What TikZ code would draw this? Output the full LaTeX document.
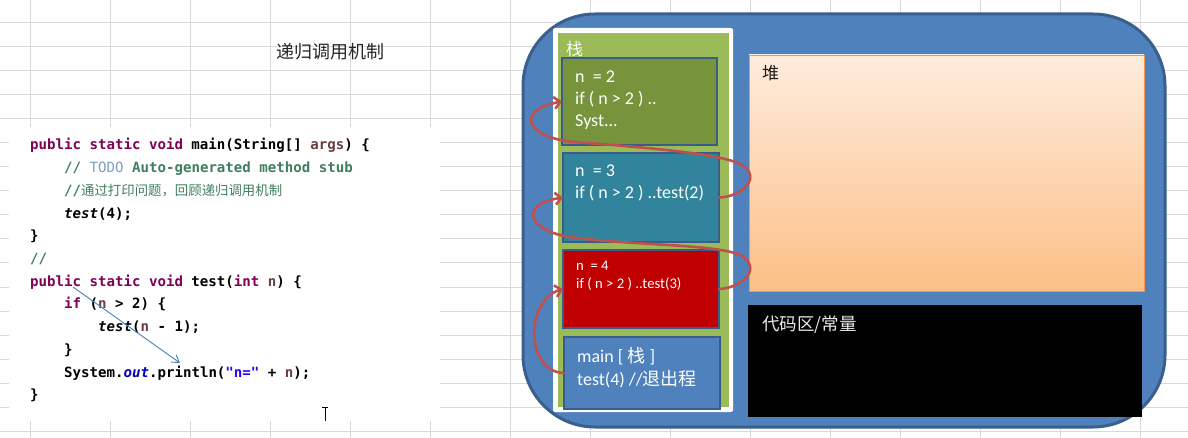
\documentclass[tikz,border=0pt]{standalone}
\usepackage{fontspec}
\usetikzlibrary{arrows.meta}
\newfontfamily\cjk{Noto Sans CJK SC}
\newfontfamily\codefont{DejaVu Sans Mono}
\newfontfamily\calfont{Carlito}
\definecolor{gridc}{HTML}{D9D9D9}
\definecolor{kwc}{HTML}{7F0055}
\definecolor{cmc}{HTML}{3F7F5F}
\definecolor{todoc}{HTML}{7F9FBF}
\definecolor{varc}{HTML}{6A3E3E}
\definecolor{fldc}{HTML}{0000C0}
\definecolor{strc}{HTML}{2A00FF}
\definecolor{memfill}{HTML}{4F81BD}
\definecolor{memborder}{HTML}{3A5F8C}
\definecolor{stackgreen}{HTML}{9BBB59}
\definecolor{frameborder}{HTML}{385D8A}
\definecolor{olive}{HTML}{77933C}
\definecolor{teal}{HTML}{31849B}
\definecolor{darkred}{HTML}{C00000}
\definecolor{redarrow}{HTML}{C0504D}
\definecolor{heaptop}{HTML}{FEECDD}
\definecolor{heapbot}{HTML}{FCBF86}
\definecolor{heapborder}{HTML}{F79646}
\definecolor{codearrowc}{HTML}{4A7EBB}
\newcommand\ckw[1]{\textcolor{kwc}{#1}}
\newcommand\ccm[1]{\textcolor{cmc}{#1}}
\newcommand\ctodo[1]{\textcolor{todoc}{\mdseries #1}}
\newcommand\cvar[1]{\textcolor{varc}{#1}}
\newcommand\cfld[1]{\textcolor{fldc}{\itshape #1}}
\newcommand\cstr[1]{\textcolor{strc}{#1}}
\tikzset{
  gridline/.style={draw=gridc, line width=1pt},
  codeline/.style={anchor=base west, inner sep=0pt, font=\codefont\bfseries\fontsize{14.1}{16}\selectfont},
  frame/.style={draw=frameborder, line width=2.5pt, inner sep=0pt, outer sep=0pt},
  ftext/.style={anchor=base west, inner sep=0pt, text=white, font=\calfont\fontsize{18}{22}\selectfont},
  ftextsmall/.style={anchor=base west, inner sep=0pt, text=white, font=\calfont\fontsize{14.7}{18}\selectfont},
  call/.style={draw=redarrow, line width=2.6pt, line cap=round, -{Straight Barb[length=6pt,width=12pt]}},
  codearrow/.style={draw=codearrowc, line width=0.9pt, -{Straight Barb[length=7pt,width=9pt]}},
}
\begin{document}
\begin{tikzpicture}[x=1pt,y=-1pt]
\useasboundingbox (0,0) rectangle (1188,438);
\fill[white] (0,0) rectangle (1188,438);
% spreadsheet grid
\foreach \yy in {23,47,...,431} \draw[gridline] (0,\yy) -- (1188,\yy);
\foreach \xx in {30,110,190,270,350,430,510,590,670,750,830,900,980,1060,1140} \draw[gridline] (\xx,0) -- (\xx,438);
% code picture
\fill[white] (9,127) rectangle (440,421);
\node[anchor=west, inner sep=0pt, text=black!85, font=\cjk\fontsize{18}{18}\selectfont] (title) at (276,52) {递归调用机制};
\node[codeline] (c1) at (30,150) {\ckw{public static void} main(String[] \cvar{args}) \{};
\node[codeline] (c2) at (64,172.7) {\ccm{//\ }\ctodo{TODO}\ccm{\ Auto-generated method stub}};
\node[codeline] (c3) at (64,195.4) {\ccm{//{\cjk\mdseries\fontsize{13.4}{16}\selectfont 通过打印问题，回顾递归调用机制}}};
\node[codeline] (c4) at (64,218.1) {{\itshape test}(4);};
\node[codeline] (c5) at (30,240.8) {\}};
\node[codeline] (c6) at (30,263.5) {\ccm{//}};
\node[codeline] (c7) at (30,286.2) {\ckw{public static void} test(\ckw{int} \cvar{n}) \{};
\node[codeline] (c8) at (64,308.9) {\ckw{if} (\cvar{n} > 2) \{};
\node[codeline] (c9) at (98,331.6) {{\itshape test}(\cvar{n} - 1);};
\node[codeline] (c10) at (64,354.3) {\}};
\node[codeline] (c11) at (64,377) {System.\cfld{out}.println(\cstr{"n="} + \cvar{n});};
\node[codeline] (c12) at (30,399.7) {\}};
\coordinate (ca) at (73,287);
\coordinate (cb) at (180,363);
\draw[codearrow] (ca) -- (cb);
% text cursor
\draw[line width=1pt] (322,407) -- (328,407);
\draw[line width=1pt] (325,407) -- (325,421);
% memory container
\node[draw=memborder, fill=memfill, line width=3pt, rounded corners=72pt, minimum width=642pt, minimum height=413pt, inner sep=0pt] (mem) at (844,220.5) {};
% stack panel
\node[fill=white, rounded corners=2pt, minimum width=180pt, minimum height=384pt, inner sep=0pt] (panel) at (643,220) {};
\node[fill=stackgreen, minimum width=171pt, minimum height=374pt, inner sep=0pt] (stack) at (643.5,220) {};
\node[anchor=west, inner sep=0pt, text=white!92!stackgreen, font=\cjk\fontsize{17}{17}\selectfont] (stacklabel) at (566,49) {栈};
% frames
\node[frame, fill=olive, minimum width=155pt, minimum height=87pt] (f1) at (639.5,101.5) {};
\node[frame, fill=teal, minimum width=156pt, minimum height=89pt] (f2) at (641,197.5) {};
\node[frame, fill=darkred, minimum width=156pt, minimum height=78pt] (f3) at (641,289) {};
\node[frame, fill=memfill, minimum width=156pt, minimum height=72pt] (f4) at (642,373) {};
\node[ftext] (f1a) at (575,83) {n\ \ = 2};
\node[ftext] (f1b) at (575,105) {if ( n > 2 ) ..};
\node[ftext] (f1c) at (575,127) {Syst...};
\node[ftext] (f2a) at (575,176.5) {n\ \ = 3};
\node[ftext] (f2b) at (575,198.5) {if ( n > 2 ) ..test(2)};
\node[ftextsmall] (f3a) at (576,270.5) {n\ \ = 4};
\node[ftextsmall] (f3b) at (576,288.5) {if ( n > 2 ) ..test(3)};
\node[ftext] (f4a) at (577,362.5) {main [ {\cjk 栈} ]};
\node[ftext] (f4b) at (577,385.5) {test(4) //{\cjk 退出程}};
% heap and code area
\node[draw=heapborder, line width=0.8pt, top color=heaptop, bottom color=heapbot, minimum width=395pt, minimum height=236pt, inner sep=0pt] (heap) at (946.5,173) {};
\node[anchor=west, inner sep=0pt, text=black!90, font=\cjk\fontsize{17}{17}\selectfont] (heaplabel) at (762,73) {堆};
\node[fill=black, minimum width=394pt, minimum height=112pt, inner sep=0pt] (codearea) at (945,361) {};
\node[anchor=west, inner sep=0pt, text=white!92!black, font=\cjk\fontsize{17.5}{17.5}\selectfont] (codelabel) at (762,325) {代码区/常量};
% recursive call arrows
\draw[call] (f4.west) .. controls (525,372) and (525,300) .. (f3.west);
\draw[call] (f3.east) .. controls (740,288) and (760,272) .. (745,258)
  .. controls (730,244) and (640,246) .. (578,238)
  .. controls (530,234) and (515,205) .. (f2.west);
\draw[call] (f2.east) .. controls (740,197) and (760,180) .. (745,167)
  .. controls (730,154) and (650,148) .. (575,142)
  .. controls (525,138) and (515,110) .. (f1.west);
\end{tikzpicture}
\end{document}
